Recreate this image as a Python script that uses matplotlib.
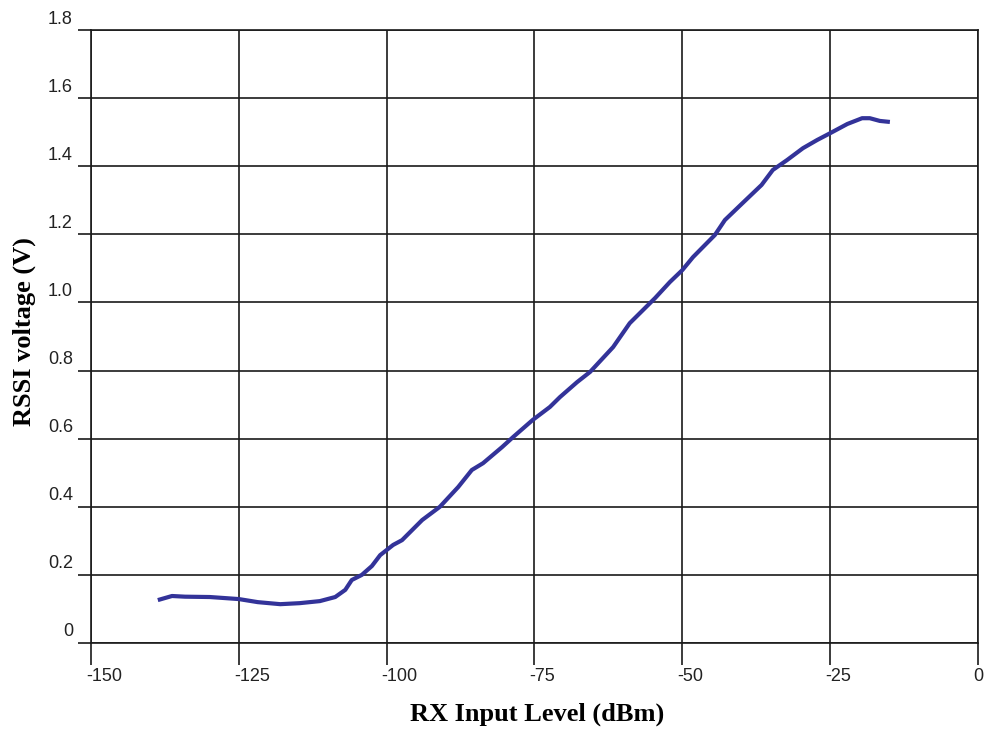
import matplotlib
matplotlib.use('Agg')
import matplotlib.pyplot as plt
import matplotlib.transforms as mtransforms
import numpy as np

# RSSI curve (dBm, V)
rx_level = [-138.7, -136.3, -134.1, -129.9, -125.0, -121.8, -118.0, -114.7, -111.3,
            -108.7, -107.0, -105.9, -104.2, -102.5, -101.1, -98.9, -97.4, -94.0,
            -91.0, -87.9, -85.6, -83.7, -80.5, -78.6, -75.3, -72.4, -70.7, -67.8,
            -65.6, -61.7, -58.9, -54.6, -52.1, -50.0, -48.2, -44.5, -42.8, -39.8,
            -36.6, -34.7, -32.3, -29.6, -27.2, -25.0, -22.1, -19.6, -18.3, -16.6, -14.9]
rssi_v = [0.126, 0.138, 0.136, 0.135, 0.129, 0.120, 0.114, 0.117, 0.123,
          0.135, 0.156, 0.185, 0.200, 0.226, 0.258, 0.288, 0.302, 0.361,
          0.400, 0.458, 0.508, 0.528, 0.575, 0.605, 0.655, 0.693, 0.722, 0.766,
          0.796, 0.869, 0.939, 1.013, 1.060, 1.095, 1.133, 1.198, 1.242, 1.292,
          1.345, 1.389, 1.418, 1.453, 1.477, 1.497, 1.524, 1.541, 1.541, 1.533, 1.530]

x_ticks = [-150, -125, -100, -75, -50, -25, 0]
y_ticks = [0, 0.2, 0.4, 0.6, 0.8, 1.0, 1.2, 1.4, 1.6, 1.8]
y_tick_labels = ['0', '0.2', '0.4', '0.6', '0.8', '1.0', '1.2', '1.4', '1.6', '1.8']

fig = plt.figure(figsize=(9.87, 7.29), dpi=100)
ax = fig.add_axes([91 / 987, 1 - 643 / 729, 887 / 987, 613 / 729])

ax.plot(rx_level, rssi_v, color='#333399', linewidth=3.0, solid_capstyle='butt')

ax.set_xlim(-150, 0)
ax.set_ylim(0, 1.8)
ax.set_xticks(x_ticks)
ax.set_xticklabels([str(v) for v in x_ticks])
ax.set_yticks(y_ticks)
ax.set_yticklabels(y_tick_labels)

ax.grid(True, color='#1a1a1a', linewidth=1.2)
ax.set_axisbelow(True)
for sp in ax.spines.values():
    sp.set_color('#1a1a1a')
    sp.set_linewidth(1.2)

ax.tick_params(axis='y', direction='out', length=9.5, width=1.2, color='#1a1a1a',
               pad=3.5, labelsize=13, labelcolor='#222222')
ax.tick_params(axis='x', direction='out', length=16, width=1.2, color='#1a1a1a',
               pad=2, labelsize=13, labelcolor='#222222')

# y labels sit just above their gridlines, x labels start near the tick
up = mtransforms.ScaledTranslation(0, 13 / 100, fig.dpi_scale_trans)
for lbl in ax.get_yticklabels():
    lbl.set_fontfamily('Liberation Sans')
    lbl.set_transform(lbl.get_transform() + up)
left = mtransforms.ScaledTranslation(-5 / 100, 0, fig.dpi_scale_trans)
for lbl in ax.get_xticklabels():
    lbl.set_fontfamily('Liberation Sans')
    lbl.set_horizontalalignment('left')
    lbl.set_transform(lbl.get_transform() + left)

fig.text(537 / 987, 1 - 714 / 729, 'RX Input Level (dBm)', ha='center', va='center',
         fontsize=19, fontweight='bold', family='Liberation Serif')
fig.text(24 / 987, 1 - 332 / 729, 'RSSI voltage (V)', ha='center', va='center',
         rotation=90, fontsize=19, fontweight='bold', family='Liberation Serif')

fig.savefig('out.png', dpi=100)
